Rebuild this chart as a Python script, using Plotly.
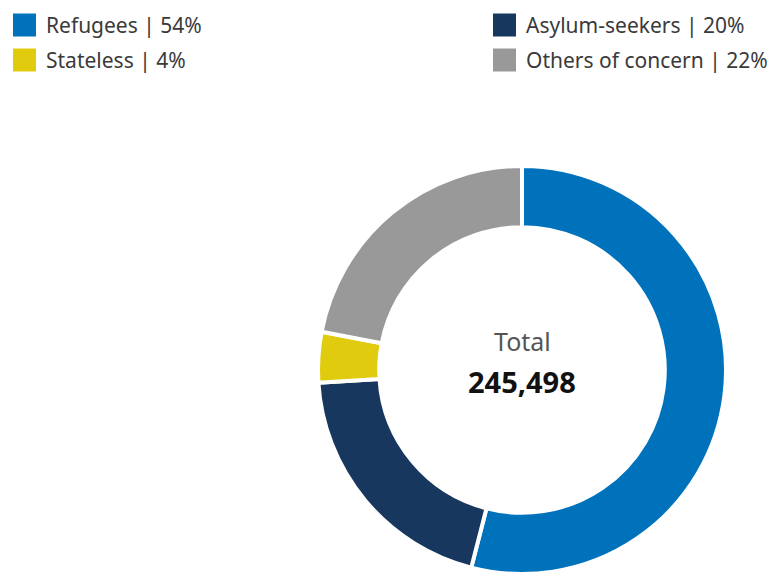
import plotly.graph_objects as go

labels = ["Refugees", "Asylum-seekers", "Stateless", "Others of concern"]
values = [132568, 49100, 9820, 54010]
percents = [54, 20, 4, 22]
colors = ["#0072BC", "#18375F", "#E1CB0F", "#999999"]
total_label = "Total"
total_value = "245,498"

W, H = 773, 574

fig = go.Figure()
fig.add_trace(go.Pie(
    labels=labels, values=values, sort=False, direction="clockwise", rotation=0,
    hole=0.70, textinfo="none", showlegend=False,
    marker=dict(colors=colors, line=dict(color="white", width=4)),
    domain=dict(x=[318/W, 726/W], y=[0, 408/H]),
))

# legend entries: (column x of square, row y-center)
legend_pos = {"Refugees": (13, 25), "Stateless": (13, 60),
              "Asylum-seekers": (493, 25), "Others of concern": (493, 60)}
shapes, annotations = [], []
for lab, pct, col in zip(labels, percents, colors):
    x0, yc = legend_pos[lab]
    shapes.append(dict(type="rect", xref="paper", yref="paper",
                       x0=x0/W, x1=(x0+23)/W, y0=1-(yc+11.5)/H, y1=1-(yc-11.5)/H,
                       fillcolor=col, line=dict(width=0)))
    annotations.append(dict(text=f"{lab} | {pct}%", xref="paper", yref="paper",
                            x=(x0+31)/W, y=1-yc/H, xanchor="left", yanchor="middle",
                            showarrow=False, font=dict(family="Noto Sans", size=21, color="#3a3a3a")))

annotations.append(dict(text=total_label, xref="paper", yref="paper", x=522/W, y=1-341/H,
                        showarrow=False, xanchor="center", yanchor="middle",
                        font=dict(family="Noto Sans", size=25, color="#555555")))
annotations.append(dict(text=f"<b>{total_value}</b>", xref="paper", yref="paper", x=522/W, y=1-381/H,
                        showarrow=False, xanchor="center", yanchor="middle",
                        font=dict(family="Noto Sans", size=29, color="#111111")))

fig.update_layout(width=W, height=H, margin=dict(l=0, r=0, t=0, b=0),
                  paper_bgcolor="white", plot_bgcolor="white",
                  shapes=shapes, annotations=annotations)
fig.write_html("out.html")
